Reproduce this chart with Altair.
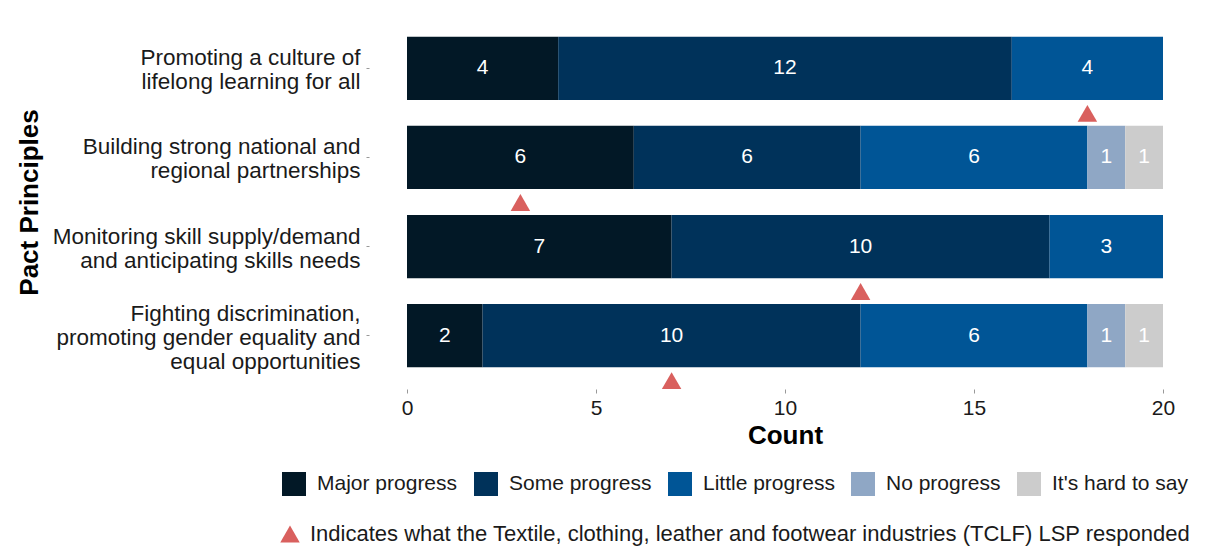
import altair as alt
import pandas as pd

principles = [
    "Promoting a culture of|lifelong learning for all",
    "Building strong national and|regional partnerships",
    "Monitoring skill supply/demand|and anticipating skills needs",
    "Fighting discrimination,|promoting gender equality and|equal opportunities",
]
categories = ["Major progress", "Some progress", "Little progress", "No progress", "It's hard to say"]
colors = ["#021826", "#00325A", "#005596", "#8FA7C5", "#CCCCCC"]
major = [4, 6, 7, 2]
some = [12, 6, 10, 10]
little = [4, 6, 3, 6]
no_prog = [0, 1, 0, 1]
hard = [0, 1, 0, 1]
tclf = [18, 3, 12, 7]
marker_label = "Indicates what the Textile, clothing, leather and footwear industries (TCLF) LSP responded"

series = [major, some, little, no_prog, hard]
rows = []
for ci, (cat, vals) in enumerate(zip(categories, series)):
    for p, v in zip(principles, vals):
        rows.append({"principle": p, "category": cat, "order": ci, "count": v})
df = pd.DataFrame(rows)
tri = pd.DataFrame({"principle": principles, "value": tclf, "marker": [marker_label] * 4})

FONT = "Liberation Sans"

y_enc = alt.Y(
    "principle:N",
    sort=principles,
    scale=alt.Scale(paddingInner=0.29, paddingOuter=0.245),
    axis=alt.Axis(
        title="Pact Principles",
        labelExpr="split(datum.label, '|')",
        labelFontSize=22.5,
        labelLineHeight=24,
        labelLimit=500,
        labelColor="#1a1a1a",
        labelPadding=6,
        labelOffset={
            "condition": {"test": "length(split(datum.value, '|')) > 2", "value": -22},
            "value": -10,
        },
        tickSize=3,
        tickColor="#999999",
        domain=False,
        offset=38,
        titleFontSize=26,
        titleFontWeight="bold",
        titleX=-340,
        titleY=187,
        titleAngle=-90,
        titleBaseline="middle",
        titleAlign="center",
        titleColor="#000000",
    ),
)

x_scale = alt.Scale(domain=[0, 20], nice=False)

base = alt.Chart(df).transform_stack(
    stack="count", groupby=["principle"], as_=["x0", "x1"], sort=[alt.SortField("order")]
).transform_calculate(mid="(datum.x0 + datum.x1) / 2")

bars = base.mark_bar().encode(
    y=y_enc,
    x=alt.X(
        "x0:Q",
        scale=x_scale,
        axis=alt.Axis(
            title="Count",
            values=[0, 5, 10, 15, 20],
            labelFontSize=21,
            labelColor="#1a1a1a",
            labelFlush=False,
            tickSize=4,
            tickColor="#999999",
            domain=False,
            grid=False,
            labelPadding=4,
            titleFontSize=26,
            titleFontWeight="bold",
            titleColor="#000000",
            titlePadding=4,
        ),
    ),
    x2="x1:Q",
    color=alt.Color(
        "category:N",
        scale=alt.Scale(domain=categories, range=colors),
        legend=alt.Legend(
            title=None,
            orient="none",
            direction="horizontal",
            legendX=-125,
            legendY=457,
            symbolType="square",
            symbolSize=576,
            symbolStrokeWidth=0,
            labelFontSize=21,
            labelColor="#1a1a1a",
            labelOffset=11,
            columnPadding=16,
            labelLimit=400,
        ),
    ),
)

texts = base.transform_filter("datum.count > 0").mark_text(
    color="white", fontSize=21, font=FONT
).encode(
    y=alt.Y("principle:N", sort=principles),
    x=alt.X("mid:Q", scale=x_scale),
    text="count:Q",
)

points = alt.Chart(tri).mark_point(
    shape="triangle-up", filled=True, size=380, yOffset=45, opacity=1, color="#D9605E"
).encode(
    y=alt.Y("principle:N", sort=principles),
    x=alt.X("value:Q", scale=x_scale),
    shape=alt.Shape(
        "marker:N",
        scale=alt.Scale(domain=[marker_label], range=["triangle-up"]),
        legend=alt.Legend(
            title=None,
            orient="none",
            legendX=-128,
            legendY=508,
            symbolSize=380,
            symbolFillColor="#D9605E",
            symbolStrokeColor="#D9605E",
            symbolStrokeWidth=0,
            labelFontSize=22,
            labelColor="#1a1a1a",
            labelOffset=9,
            labelLimit=1200,
        ),
    ),
)

chart = alt.layer(bars, texts, points).properties(
    width=756, height=374, padding={"left": 8, "top": 7, "right": 5, "bottom": 5}
).configure(font=FONT).configure_view(stroke=None)

chart.save("out.html", embed_options={"renderer": "svg", "actions": False})
